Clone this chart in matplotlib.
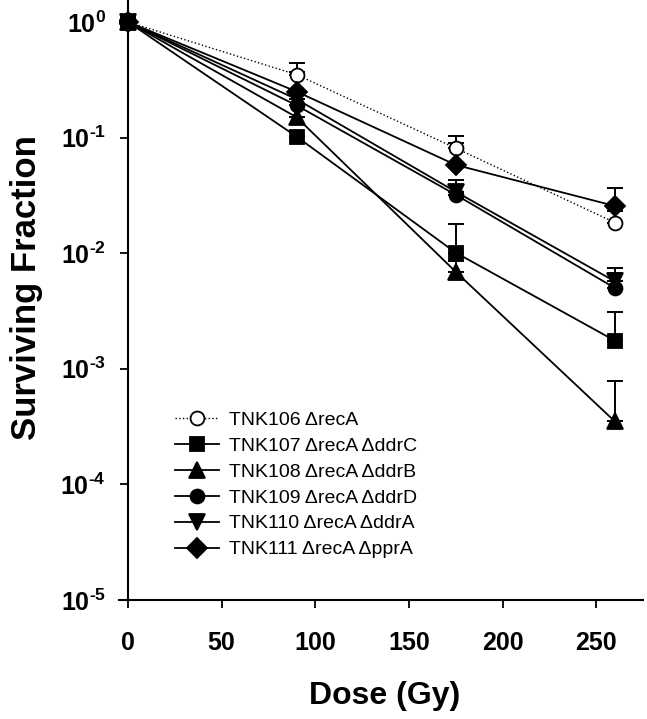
import matplotlib
matplotlib.use("Agg")
import matplotlib.pyplot as plt
import numpy as np

plt.rcParams['font.family'] = ['Liberation Sans', 'DejaVu Sans']
plt.rcParams['mathtext.fontset'] = 'custom'
plt.rcParams['mathtext.bf'] = 'Liberation Sans:bold'
plt.rcParams['mathtext.rm'] = 'Liberation Sans'

dose = [0, 90, 175, 260]

labels = ["TNK106 \u0394recA", "TNK107 \u0394recA \u0394ddrC", "TNK108 \u0394recA \u0394ddrB",
          "TNK109 \u0394recA \u0394ddrD", "TNK110 \u0394recA \u0394ddrA", "TNK111 \u0394recA \u0394pprA"]

tnk106 = [1.0, 0.35, 0.081, 0.0184]
tnk106_err = [0, 0.09, 0.023, 0.0046]
tnk107 = [1.0, 0.102, 0.0101, 0.00175]
tnk107_err = [0, 0, 0.0078, 0.00135]
tnk108 = [1.0, 0.15, 0.0069, 0.00035]
tnk108_err = [0, 0, 0.0016, 0.00043]
tnk109 = [1.0, 0.19, 0.032, 0.0050]
tnk109_err = [0, 0, 0.002, 0.0017]
tnk110 = [1.0, 0.215, 0.034, 0.0057]
tnk110_err = [0, 0, 0.009, 0.0018]
tnk111 = [1.0, 0.25, 0.058, 0.0256]
tnk111_err = [0, 0.12, 0.031, 0.0113]

ytick_vals = [1e0, 1e-1, 1e-2, 1e-3, 1e-4, 1e-5]
ytick_exps = ['0', '\u20101', '\u20102', '\u20103', '\u20104', '\u20105']
xtick_vals = [0, 50, 100, 150, 200, 250]

series = [
    (tnk106, tnk106_err, 'o', 'white', ':'),
    (tnk107, tnk107_err, 's', 'black', '-'),
    (tnk108, tnk108_err, '^', 'black', '-'),
    (tnk109, tnk109_err, 'o', 'black', '-'),
    (tnk110, tnk110_err, 'v', 'black', '-'),
    (tnk111, tnk111_err, 'D', 'black', '-'),
]
msizes = {'o': 10, 's': 10, '^': 12, 'v': 12, 'D': 10.5}

fig = plt.figure(figsize=(6.47, 7.19), dpi=100)
# axes spans x from -5 to 275 data units
x0_px = 128
px_per_unit = (596 - 128) / 250
left_px = x0_px - 5 * px_per_unit
ax = fig.add_axes([left_px/647, 1-600/719, (643-left_px)/647, 600/719])

handles = []
for (vals, err, mk, mfc, ls), lab in zip(series, labels):
    ms = msizes[mk]
    lw = 1.0 if ls == ':' else 1.3
    ax.errorbar(dose, vals, yerr=[np.zeros(len(err)), err], fmt='none',
                ecolor='black', elinewidth=1.4, capsize=6, capthick=1.4, zorder=2)
    h, = ax.plot(dose, vals, linestyle=ls, color='black', linewidth=lw,
                 marker=mk, markersize=ms, markerfacecolor=mfc,
                 markeredgecolor='black', markeredgewidth=1.3, label=lab, zorder=3)
    handles.append(h)

ax.set_yscale('log')
ax.set_ylim(1e-5, 10**0.19)
ax.set_xlim(-5, 275)
ax.spines['left'].set_position(('data', 0))
ax.set_xticks(xtick_vals)
ax.set_yticks(ytick_vals)
ax.set_yticklabels([r'$\mathbf{10^{%s}}$' % e for e in ytick_exps])
ax.yaxis.set_minor_locator(matplotlib.ticker.NullLocator())
for lab in ax.get_xticklabels():
    lab.set_fontweight('bold')

ax.spines['top'].set_visible(False)
ax.spines['right'].set_visible(False)
for s in ['left', 'bottom']:
    ax.spines[s].set_linewidth(1.5)
ax.tick_params(axis='both', which='major', direction='out', length=6, width=1.3,
               labelsize=18)
ax.tick_params(axis='y', pad=10)
ax.tick_params(axis='x', pad=16)

fig.text(27/647, 1-288/719, 'Surviving Fraction', rotation=90, ha='center', va='center',
         fontsize=25, fontweight='bold')
fig.text(385/647, 1-696/719, 'Dose (Gy)', ha='center', va='center',
         fontsize=23, fontweight='bold')

ax.legend(handles=handles, loc='upper left', bbox_to_anchor=(175/647, 1-411/719),
          bbox_transform=fig.transFigure, frameon=False, fontsize=14,
          handlelength=2.25, handletextpad=0.55, labelspacing=0.43,
          borderpad=0, borderaxespad=0)

fig.savefig('out.png', dpi=100)
